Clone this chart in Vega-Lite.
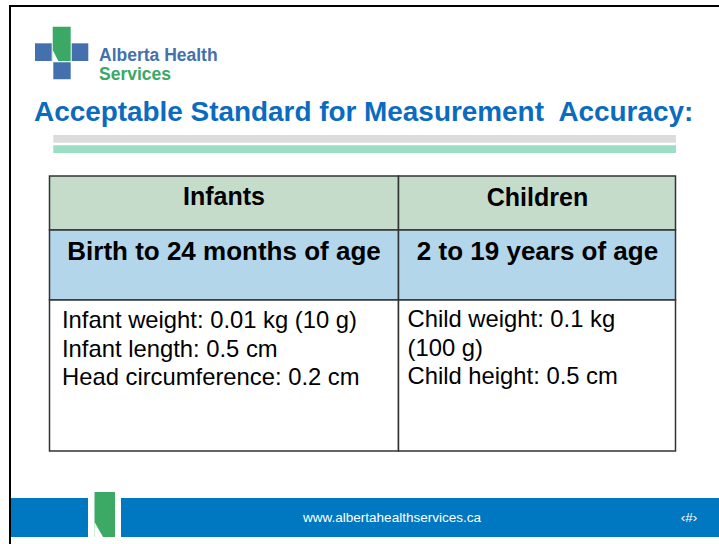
{
  "$schema": "https://vega.github.io/schema/vega-lite/v6.json",
  "width": 719,
  "height": 544,
  "padding": 0,
  "autosize": {"type": "fit", "contains": "padding"},
  "background": "white",
  "config": {"view": {"stroke": null}},
  "datasets": {
    "shapes": [
      {"part": "frame", "x": 9, "x2": 719, "y": 5, "y2": 7},
      {"part": "frame", "x": 9, "x2": 11, "y": 5, "y2": 544},
      {"part": "logoBlue", "x": 35, "x2": 51.7, "y": 43.3, "y2": 61},
      {"part": "logoGreen", "x": 52.7, "x2": 70.7, "y": 26.7, "y2": 61},
      {"part": "logoBlue", "x": 71.7, "x2": 88.3, "y": 43.3, "y2": 61},
      {"part": "logoBlue", "x": 53.3, "x2": 70.7, "y": 62.3, "y2": 79.3},
      {"part": "barGray", "x": 53.3, "x2": 676, "y": 135, "y2": 142.7},
      {"part": "barGreen", "x": 53.3, "x2": 676, "y": 145.3, "y2": 153},
      {"part": "footBlue", "x": 11, "x2": 88, "y": 498, "y2": 537},
      {"part": "footBlue", "x": 121, "x2": 719, "y": 498, "y2": 537},
      {"part": "footGreen", "x": 94.5, "x2": 115, "y": 492, "y2": 537}
    ],
    "cells": [
      {"row": "head", "x": 49.5, "x2": 398.5, "y": 176, "y2": 230},
      {"row": "head", "x": 398.5, "x2": 675.5, "y": 176, "y2": 230},
      {"row": "sub", "x": 49.5, "x2": 398.5, "y": 230, "y2": 300},
      {"row": "sub", "x": 398.5, "x2": 675.5, "y": 230, "y2": 300},
      {"row": "body", "x": 49.5, "x2": 398.5, "y": 300, "y2": 451},
      {"row": "body", "x": 398.5, "x2": 675.5, "y": 300, "y2": 451}
    ],
    "notches": [
      {"part": "logo", "x": 55.5, "y": 55.5},
      {"part": "foot", "x": 98.75, "y": 529.5}
    ],
    "texts": [
      {"role": "brand1", "x": 99, "y": 61, "text": "Alberta Health"},
      {"role": "brand2", "x": 99, "y": 80, "text": "Services"},
      {"role": "title", "x": 34, "y": 120.7, "text": "Acceptable Standard for Measurement\u00a0 Accuracy:"},
      {"role": "th", "x": 224, "y": 205, "text": "Infants"},
      {"role": "th", "x": 537.5, "y": 205.5, "text": "Children"},
      {"role": "sub", "x": 224, "y": 259.5, "text": "Birth to 24 months of age"},
      {"role": "sub", "x": 537.5, "y": 260, "text": "2 to 19 years of age"},
      {"role": "body", "x": 62, "y": 328, "text": "Infant weight: 0.01 kg (10 g)"},
      {"role": "body", "x": 62, "y": 357, "text": "Infant length: 0.5 cm"},
      {"role": "body", "x": 62, "y": 385, "text": "Head circumference: 0.2 cm"},
      {"role": "body", "x": 407.5, "y": 327, "text": "Child weight: 0.1 kg"},
      {"role": "body", "x": 407.5, "y": 356, "text": "(100 g)"},
      {"role": "body", "x": 407.5, "y": 384, "text": "Child height: 0.5 cm"},
      {"role": "url", "x": 392, "y": 522, "text": "www.albertahealthservices.ca"},
      {"role": "page", "x": 689, "y": 522, "text": "\u2039#\u203a"}
    ]
  },
  "encoding": {
    "x": {"field": "x", "type": "quantitative", "scale": {"domain": [0, 719], "nice": false, "zero": false}, "axis": null},
    "y": {"field": "y", "type": "quantitative", "scale": {"domain": [0, 544], "nice": false, "zero": false, "reverse": true}, "axis": null}
  },
  "layer": [
    {
      "data": {"name": "shapes"},
      "mark": {"type": "rect"},
      "encoding": {
        "x2": {"field": "x2"},
        "y2": {"field": "y2"},
        "color": {
          "field": "part", "type": "nominal", "legend": null,
          "scale": {
            "domain": ["frame", "logoBlue", "logoGreen", "barGray", "barGreen", "footBlue", "footGreen"],
            "range": ["#000000", "#4470ae", "#3aa966", "#dcdcdc", "#9bdfc5", "#0077c1", "#3caa64"]
          }
        }
      }
    },
    {
      "data": {"name": "cells"},
      "mark": {"type": "rect", "stroke": "#333333", "strokeWidth": 1.5},
      "encoding": {
        "x2": {"field": "x2"},
        "y2": {"field": "y2"},
        "fill": {
          "field": "row", "type": "nominal", "legend": null,
          "scale": {"domain": ["head", "sub", "body"], "range": ["#c5dccb", "#b3d6ea", "#ffffff"]}
        }
      }
    },
    {
      "data": {"name": "notches"},
      "transform": [{"filter": "datum.part === 'logo'"}],
      "mark": {"type": "point", "filled": true, "color": "white", "opacity": 1, "size": 121, "shape": "M -0.5 -1 L 0.5 1 L -0.5 1 Z"}
    },
    {
      "data": {"name": "notches"},
      "transform": [{"filter": "datum.part === 'foot'"}],
      "mark": {"type": "point", "filled": true, "color": "white", "opacity": 1, "size": 225, "shape": "M -0.567 -1 L 0.567 1 L -0.567 1 Z"}
    },
    {
      "data": {"name": "texts"},
      "transform": [{"filter": "datum.role === 'brand1'"}],
      "mark": {"type": "text", "align": "left", "baseline": "alphabetic", "font": "Liberation Sans", "fontWeight": "bold", "fontSize": 17.5, "color": "#4470ae"},
      "encoding": {"text": {"field": "text"}}
    },
    {
      "data": {"name": "texts"},
      "transform": [{"filter": "datum.role === 'brand2'"}],
      "mark": {"type": "text", "align": "left", "baseline": "alphabetic", "font": "Liberation Sans", "fontWeight": "bold", "fontSize": 17.5, "color": "#3aa966"},
      "encoding": {"text": {"field": "text"}}
    },
    {
      "data": {"name": "texts"},
      "transform": [{"filter": "datum.role === 'title'"}],
      "mark": {"type": "text", "align": "left", "baseline": "alphabetic", "font": "Liberation Sans", "fontWeight": "bold", "fontSize": 27.9, "color": "#0b6bbf"},
      "encoding": {"text": {"field": "text"}}
    },
    {
      "data": {"name": "texts"},
      "transform": [{"filter": "datum.role === 'th'"}],
      "mark": {"type": "text", "align": "center", "baseline": "alphabetic", "font": "Liberation Sans", "fontWeight": "bold", "fontSize": 25, "color": "#000000"},
      "encoding": {"text": {"field": "text"}}
    },
    {
      "data": {"name": "texts"},
      "transform": [{"filter": "datum.role === 'sub'"}],
      "mark": {"type": "text", "align": "center", "baseline": "alphabetic", "font": "Liberation Sans", "fontWeight": "bold", "fontSize": 26, "color": "#000000"},
      "encoding": {"text": {"field": "text"}}
    },
    {
      "data": {"name": "texts"},
      "transform": [{"filter": "datum.role === 'body'"}],
      "mark": {"type": "text", "align": "left", "baseline": "alphabetic", "font": "Liberation Sans", "fontSize": 23.8, "color": "#000000"},
      "encoding": {"text": {"field": "text"}}
    },
    {
      "data": {"name": "texts"},
      "transform": [{"filter": "datum.role === 'url' || datum.role === 'page'"}],
      "mark": {"type": "text", "align": "center", "baseline": "alphabetic", "font": "Liberation Sans", "fontSize": 13.5, "color": "#ffffff"},
      "encoding": {"text": {"field": "text"}}
    }
  ]
}
